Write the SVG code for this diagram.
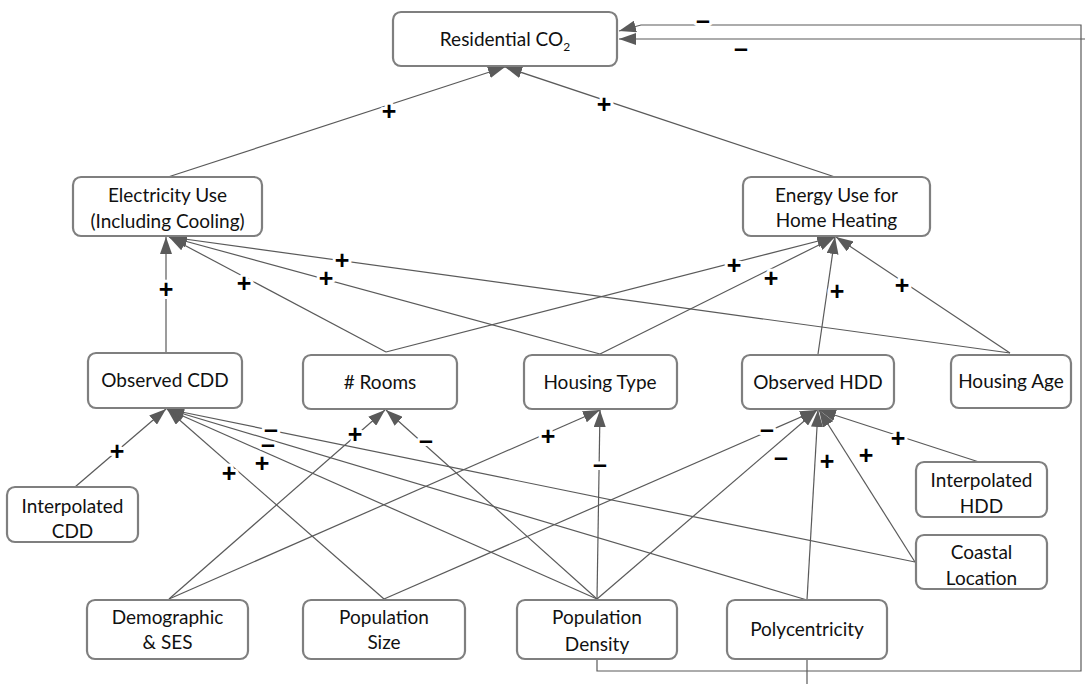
<svg xmlns="http://www.w3.org/2000/svg" width="1085" height="684" viewBox="0 0 1085 684">
<style>
.box{fill:#fff;stroke:#7f7f7f;stroke-width:2.2}
.t{font-family:Lato,"Liberation Sans",sans-serif;font-size:19px;fill:#111;text-anchor:middle}
.e{fill:none;stroke:#5a5a5a;stroke-width:1.2}
.l{font-family:"Liberation Sans",Arial,sans-serif;font-size:25px;font-weight:bold;fill:#000;text-anchor:middle;stroke:#fff;stroke-width:6;paint-order:stroke;stroke-linejoin:round}
</style>
<defs>
<marker id="arr" viewBox="0 0 17 12" refX="17" refY="6" markerWidth="17" markerHeight="12" markerUnits="userSpaceOnUse" orient="auto">
<path d="M0,0 L17,6 L0,12 z" fill="#5a5a5a"/>
</marker>
</defs>
<g id="connectors">
<line class="e" x1="168" y1="177" x2="505" y2="67" marker-end="url(#arr)"/>
<line class="e" x1="835" y1="177" x2="505" y2="67" marker-end="url(#arr)"/>
<line class="e" x1="166" y1="353" x2="166" y2="237" marker-end="url(#arr)"/>
<line class="e" x1="386" y1="352" x2="169" y2="237" marker-end="url(#arr)"/>
<line class="e" x1="600" y1="354" x2="170" y2="237" marker-end="url(#arr)"/>
<line class="e" x1="1010" y1="353" x2="170" y2="237" marker-end="url(#arr)"/>
<line class="e" x1="386" y1="352" x2="834" y2="237" marker-end="url(#arr)"/>
<line class="e" x1="600" y1="354" x2="835" y2="237" marker-end="url(#arr)"/>
<line class="e" x1="818" y1="354" x2="835" y2="237" marker-end="url(#arr)"/>
<line class="e" x1="1010" y1="353" x2="836" y2="237" marker-end="url(#arr)"/>
<line class="e" x1="75" y1="487" x2="166" y2="409" marker-end="url(#arr)"/>
<line class="e" x1="384" y1="599" x2="167" y2="409" marker-end="url(#arr)"/>
<line class="e" x1="597" y1="599" x2="167" y2="409" marker-end="url(#arr)"/>
<line class="e" x1="807" y1="600" x2="167" y2="409" marker-end="url(#arr)"/>
<line class="e" x1="915" y1="562" x2="167" y2="409" marker-end="url(#arr)"/>
<line class="e" x1="169" y1="599" x2="385" y2="410" marker-end="url(#arr)"/>
<line class="e" x1="597" y1="599" x2="386" y2="410" marker-end="url(#arr)"/>
<line class="e" x1="169" y1="599" x2="600" y2="410" marker-end="url(#arr)"/>
<line class="e" x1="597" y1="599" x2="600" y2="410" marker-end="url(#arr)"/>
<line class="e" x1="384" y1="599" x2="817" y2="410" marker-end="url(#arr)"/>
<line class="e" x1="597" y1="599" x2="817" y2="410" marker-end="url(#arr)"/>
<line class="e" x1="807" y1="600" x2="818" y2="410" marker-end="url(#arr)"/>
<line class="e" x1="915" y1="562" x2="819" y2="410" marker-end="url(#arr)"/>
<line class="e" x1="979" y1="462" x2="819" y2="410" marker-end="url(#arr)"/>
<path class="e" d="M597,659 V671 H1081 V25 H641 L619,31" marker-end="url(#arr)"/>
<path class="e" d="M807,659 V700 H1100 V39 H619" marker-end="url(#arr)"/>
<text class="l" x="389" y="120">+</text>
<text class="l" x="604" y="113">+</text>
<text class="l" x="166" y="298">+</text>
<text class="l" x="244" y="292">+</text>
<text class="l" x="326" y="287">+</text>
<text class="l" x="342" y="269">+</text>
<text class="l" x="734" y="274">+</text>
<text class="l" x="771" y="287">+</text>
<text class="l" x="837" y="300">+</text>
<text class="l" x="902" y="294">+</text>
<text class="l" x="117" y="460">+</text>
<text class="l" x="229" y="482">+</text>
<text class="l" x="262" y="472">+</text>
<text class="l" x="268" y="453">–</text>
<text class="l" x="271" y="438">–</text>
<text class="l" x="355" y="443">+</text>
<text class="l" x="426" y="449">–</text>
<text class="l" x="548" y="445">+</text>
<text class="l" x="600" y="473">–</text>
<text class="l" x="767" y="438">–</text>
<text class="l" x="781" y="466">–</text>
<text class="l" x="827" y="470">+</text>
<text class="l" x="866" y="464">+</text>
<text class="l" x="898" y="447">+</text>
<text class="l" x="703" y="29">–</text>
<text class="l" x="741" y="57">–</text>
</g>
<g id="n-co2"><rect class="box" x="393" y="12" width="224" height="54" rx="8"/><text class="t" x="505" y="46">Residential CO<tspan font-size="12" dy="5">2</tspan></text></g>
<g id="n-elec"><rect class="box" x="73" y="177" width="189" height="59" rx="8"/><text class="t" x="167.5" y="202">Electricity Use</text><text class="t" x="167.5" y="228">(Including Cooling)</text></g>
<g id="n-energy"><rect class="box" x="743" y="177" width="187" height="59" rx="8"/><text class="t" x="836.5" y="202">Energy Use for</text><text class="t" x="836.5" y="227">Home Heating</text></g>
<g id="n-obscdd"><rect class="box" x="88" y="353" width="154" height="55" rx="8"/><text class="t" x="165" y="387">Observed CDD</text></g>
<g id="n-rooms"><rect class="box" x="303" y="355" width="154" height="54" rx="8"/><text class="t" x="380" y="389"># Rooms</text></g>
<g id="n-htype"><rect class="box" x="524" y="355" width="153" height="54" rx="8"/><text class="t" x="600" y="389">Housing Type</text></g>
<g id="n-obshdd"><rect class="box" x="742" y="355" width="152" height="54" rx="8"/><text class="t" x="818" y="389">Observed HDD</text></g>
<g id="n-hage"><rect class="box" x="951" y="355" width="120" height="53" rx="8"/><text class="t" x="1011" y="388">Housing Age</text></g>
<g id="n-intcdd"><rect class="box" x="7" y="487" width="131" height="55" rx="8"/><text class="t" x="72.5" y="513">Interpolated</text><text class="t" x="72.5" y="538">CDD</text></g>
<g id="n-inthdd"><rect class="box" x="916" y="462" width="131" height="55" rx="8"/><text class="t" x="981.5" y="487">Interpolated</text><text class="t" x="981.5" y="513">HDD</text></g>
<g id="n-coastal"><rect class="box" x="916" y="535" width="131" height="54" rx="8"/><text class="t" x="981.5" y="559">Coastal</text><text class="t" x="981.5" y="585">Location</text></g>
<g id="n-demo"><rect class="box" x="87" y="600" width="161" height="59" rx="8"/><text class="t" x="167.5" y="624">Demographic</text><text class="t" x="167.5" y="649">&amp; SES</text></g>
<g id="n-popsize"><rect class="box" x="303" y="600" width="162" height="59" rx="8"/><text class="t" x="384" y="624">Population</text><text class="t" x="384" y="649">Size</text></g>
<g id="n-popdens"><rect class="box" x="517" y="600" width="160" height="59" rx="8"/><text class="t" x="597" y="624">Population</text><text class="t" x="597" y="651">Density</text></g>
<g id="n-poly"><rect class="box" x="727" y="600" width="160" height="59" rx="8"/><text class="t" x="807" y="636">Polycentricity</text></g>
</svg>
